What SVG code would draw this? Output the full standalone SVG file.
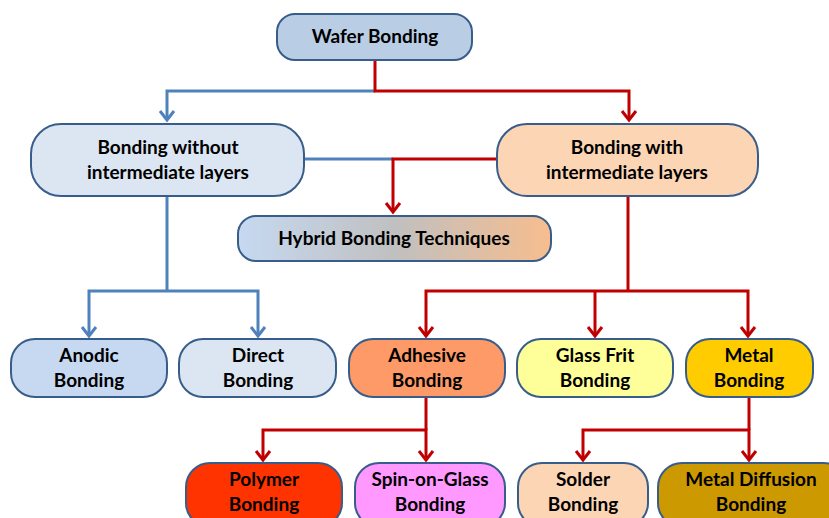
<svg xmlns="http://www.w3.org/2000/svg" width="829" height="518" viewBox="0 0 829 518">
<defs>
<linearGradient id="hyb" x1="0" y1="0" x2="1" y2="0">
<stop offset="0" stop-color="#c6d9f1"/>
<stop offset="0.5" stop-color="#c0c0c0"/>
<stop offset="1" stop-color="#f7bd8e"/>
</linearGradient>
<marker id="ab" markerUnits="userSpaceOnUse" orient="auto-start-reverse" overflow="visible" refX="0" refY="0" markerWidth="1" markerHeight="1">
<path d="M-9,-7 L0,0 L-9,7" fill="none" stroke="#4f81bd" stroke-width="3"/>
</marker>
<marker id="ar" markerUnits="userSpaceOnUse" orient="auto-start-reverse" overflow="visible" refX="0" refY="0" markerWidth="1" markerHeight="1">
<path d="M-9,-7 L0,0 L-9,7" fill="none" stroke="#c00000" stroke-width="3"/>
</marker>
</defs>
<style>
.n{stroke:#385d8a;stroke-width:2}
.t{font-family:Lato,"Open Sans",sans-serif;font-weight:bold;font-size:19px;fill:#000;text-anchor:middle}
.b{fill:none;stroke:#4f81bd;stroke-width:3}
.r{fill:none;stroke:#c00000;stroke-width:3}
</style>
<rect width="829" height="518" fill="#fff"/>
<g id="connectors">
<path class="b" d="M375,91 H167 V120" marker-end="url(#ab)"/>
<path class="r" d="M375,60 V91 H629 V120" marker-end="url(#ar)"/>
<path class="b" d="M304,159 H393"/>
<path class="r" d="M497,159 H393 V212" marker-end="url(#ar)"/>
<path class="b" d="M167,196 V291"/>
<path class="b" d="M89,336 V291 H258 V336" marker-start="url(#ab)" marker-end="url(#ab)"/>
<path class="r" d="M628,196 V291"/>
<path class="r" d="M426,336 V291 H748 V336" marker-start="url(#ar)" marker-end="url(#ar)"/>
<path class="r" d="M595,291 V336" marker-end="url(#ar)"/>
<path class="r" d="M426,397 V430"/>
<path class="r" d="M263,460 V430 H426 V460" marker-start="url(#ar)" marker-end="url(#ar)"/>
<path class="r" d="M749,397 V430"/>
<path class="r" d="M583,460 V430 H749 V460" marker-start="url(#ar)" marker-end="url(#ar)"/>
</g>
<g id="wafer">
<rect class="n" x="277" y="14" width="195" height="46" rx="18" fill="#b9cde5"/>
<text class="t" x="375" y="43">Wafer Bonding</text>
</g>
<g id="without">
<rect class="n" x="31" y="124" width="273" height="72" rx="30" fill="#dce6f2"/>
<text class="t" x="168" y="154">Bonding without</text>
<text class="t" x="168" y="179">intermediate layers</text>
</g>
<g id="with">
<rect class="n" x="497" y="124" width="261" height="72" rx="30" fill="#fcd5b5"/>
<text class="t" x="627" y="154">Bonding with</text>
<text class="t" x="627" y="179">intermediate layers</text>
</g>
<g id="hybrid">
<rect class="n" x="238" y="216" width="313" height="45" rx="18" fill="url(#hyb)"/>
<text class="t" x="394" y="245">Hybrid Bonding Techniques</text>
</g>
<g id="anodic">
<rect class="n" x="11" y="339" width="156" height="58" rx="24" fill="#c6d9f1"/>
<text class="t" x="89" y="362">Anodic</text>
<text class="t" x="89" y="387">Bonding</text>
</g>
<g id="direct">
<rect class="n" x="179" y="339" width="157" height="58" rx="24" fill="#dce6f2"/>
<text class="t" x="258" y="362">Direct</text>
<text class="t" x="258" y="387">Bonding</text>
</g>
<g id="adhesive">
<rect class="n" x="349" y="339" width="156" height="58" rx="24" fill="#fd9a68"/>
<text class="t" x="427" y="362">Adhesive</text>
<text class="t" x="427" y="387">Bonding</text>
</g>
<g id="glassfrit">
<rect class="n" x="517" y="339" width="156" height="58" rx="24" fill="#ffff99"/>
<text class="t" x="595" y="362">Glass Frit</text>
<text class="t" x="595" y="387">Bonding</text>
</g>
<g id="metal">
<rect class="n" x="686" y="339" width="127" height="58" rx="24" fill="#ffcc00"/>
<text class="t" x="749" y="362">Metal</text>
<text class="t" x="749" y="387">Bonding</text>
</g>
<g id="polymer">
<rect class="n" x="186" y="463" width="156" height="64" rx="24" fill="#ff3300"/>
<text class="t" x="264" y="486">Polymer</text>
<text class="t" x="264" y="511">Bonding</text>
</g>
<g id="spin">
<rect class="n" x="355" y="463" width="150" height="64" rx="24" fill="#ff99ff"/>
<text class="t" x="430" y="486">Spin-on-Glass</text>
<text class="t" x="430" y="511">Bonding</text>
</g>
<g id="solder">
<rect class="n" x="518" y="463" width="130" height="64" rx="24" fill="#fcd5b5"/>
<text class="t" x="583" y="486">Solder</text>
<text class="t" x="583" y="511">Bonding</text>
</g>
<g id="diffusion">
<rect class="n" x="658" y="463" width="190" height="64" rx="24" fill="#cc9900"/>
<text class="t" x="751" y="486">Metal Diffusion</text>
<text class="t" x="751" y="511">Bonding</text>
</g>
</svg>
